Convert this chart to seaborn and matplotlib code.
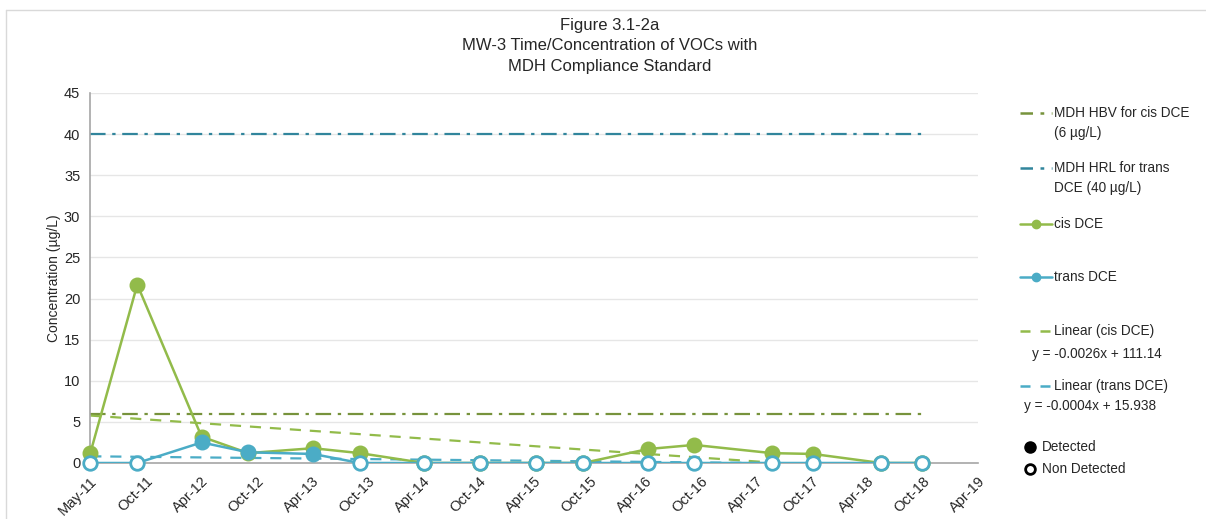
import numpy as np
import pandas as pd
import matplotlib
matplotlib.use("Agg")
import matplotlib.pyplot as plt
import matplotlib.dates as mdates
from matplotlib.lines import Line2D
import seaborn as sns

# ---- data ----
sample_dates = ["2011-05-02", "2011-10-03", "2012-05-01", "2012-10-01", "2013-05-01",
                "2013-10-02", "2014-04-30", "2014-11-01", "2015-05-02", "2015-10-04",
                "2016-05-04", "2016-10-02", "2017-06-14", "2017-10-27", "2018-06-07",
                "2018-10-19"]
cis_dce = [1.2, 21.7, 3.2, 1.2, 1.8, 1.2, 0, 0, 0, 0, 1.7, 2.2, 1.2, 1.1, 0, 0]
cis_detected = [1, 1, 1, 1, 1, 1, 0, 0, 0, 0, 1, 1, 1, 1, 0, 0]
trans_dce = [0, 0, 2.5, 1.3, 1.1, 0, 0, 0, 0, 0, 0, 0, 0, 0, 0, 0]
trans_detected = [0, 0, 1, 1, 1, 0, 0, 0, 0, 0, 0, 0, 0, 0, 0, 0]
hbv_cis = 6
hrl_trans = 40
tick_labels = ["May-11", "Oct-11", "Apr-12", "Oct-12", "Apr-13", "Oct-13", "Apr-14",
               "Oct-14", "Apr-15", "Oct-15", "Apr-16", "Oct-16", "Apr-17", "Oct-17",
               "Apr-18", "Oct-18", "Apr-19"]
y_ticks = [0, 5, 10, 15, 20, 25, 30, 35, 40, 45]

GREEN = "#92BB4A"
BLUE = "#4BACC6"
DKGREEN = "#77933C"
DKBLUE = "#31859C"
TXT = "#262626"

sns.set_theme(style="white")
plt.rcParams["font.family"] = ["Liberation Sans", "DejaVu Sans"]

dates = pd.to_datetime(sample_dates)
xnum = mdates.date2num(dates)
df = pd.DataFrame({"x": xnum, "cis": cis_dce, "cis_det": cis_detected,
                   "trans": trans_dce, "trans_det": trans_detected})

fig = plt.figure(figsize=(12.06, 5.19), dpi=100)
ax = fig.add_axes([90 / 1206, 1 - 463 / 519, (978 - 90) / 1206, (463 - 93) / 519])

# axis range: start at first tick, 182-day major units
x0 = mdates.date2num(pd.Timestamp("2011-05-01"))
tick_pos = [x0 + 182 * i for i in range(len(tick_labels))]
ax.set_xlim(tick_pos[0], tick_pos[-1])
ax.set_ylim(0, 45)

# gridlines
ax.set_yticks(y_ticks)
ax.yaxis.grid(True, color="#E6E6E6", lw=1)
ax.set_axisbelow(True)

# compliance lines
ax.plot([xnum[0], xnum[-1]], [hrl_trans, hrl_trans], color=DKBLUE, lw=1.6,
        dashes=(7, 3, 1.5, 3), zorder=2)
ax.plot([xnum[0], xnum[-1]], [hbv_cis, hbv_cis], color=DKGREEN, lw=1.6,
        dashes=(7, 3, 1.5, 3), zorder=2)

# trend lines
sns.regplot(data=df, x="x", y="cis", scatter=False, ci=None, ax=ax, truncate=True,
            line_kws=dict(color=GREEN, lw=1.6, dashes=(5, 4), zorder=2))
sns.regplot(data=df, x="x", y="trans", scatter=False, ci=None, ax=ax, truncate=True,
            line_kws=dict(color=BLUE, lw=1.6, dashes=(5, 4), zorder=2))

# series lines
sns.lineplot(data=df, x="x", y="cis", ax=ax, color=GREEN, lw=1.8, zorder=3)
sns.lineplot(data=df, x="x", y="trans", ax=ax, color=BLUE, lw=1.8, zorder=4)

# markers
det_c = df[df.cis_det == 1]
nd_c = df[df.cis_det == 0]
det_t = df[df.trans_det == 1]
nd_t = df[df.trans_det == 0]
ax.scatter(det_c.x, det_c.cis, s=110, color=GREEN, zorder=5, clip_on=False)
ax.scatter(nd_c.x, nd_c.cis, s=95, facecolor="white", edgecolor=GREEN, lw=2, zorder=5, clip_on=False)
ax.scatter(det_t.x, det_t.trans, s=110, color=BLUE, zorder=6, clip_on=False)
ax.scatter(nd_t.x, nd_t.trans, s=95, facecolor="white", edgecolor=BLUE, lw=2, zorder=6, clip_on=False)

# axes styling
ax.set_xticks(tick_pos)
ax.set_xticklabels(tick_labels, rotation=45, ha="right", rotation_mode="anchor",
                   fontsize=10.5, color=TXT)
ax.set_yticklabels([str(v) for v in y_ticks], fontsize=10.5, color=TXT)
ax.tick_params(axis="x", direction="inout", length=8, width=1, color="#A6A6A6", pad=4)
ax.tick_params(axis="y", direction="out", length=5, width=1, color="#A6A6A6", pad=2)
ax.set_xlabel("")
ax.set_ylabel("Concentration (µg/L)", fontsize=10, color=TXT, labelpad=2)
for s in ["top", "right"]:
    ax.spines[s].set_visible(False)
for s in ["left", "bottom"]:
    ax.spines[s].set_color("#A6A6A6")
    ax.spines[s].set_linewidth(1.2)

# title
fig.text(610 / 1206, 1 - 46 / 519,
         "Figure 3.1-2a\nMW-3 Time/Concentration of VOCs with\nMDH Compliance Standard",
         ha="center", va="center", fontsize=12, color=TXT, linespacing=1.42)

# legend (drawn manually)
W, H = 1206, 519
def fx(px):
    return px / W
def fy(py):
    return 1 - py / H

def leg_line(y, color, dashes=None, marker=False):
    kw = dict(transform=fig.transFigure, color=color, lw=1.8)
    ln = Line2D([fx(1020), fx(1052)], [fy(y), fy(y)], **kw)
    if dashes:
        ln.set_dashes(dashes)
    fig.add_artist(ln)
    if marker:
        fig.add_artist(Line2D([fx(1036)], [fy(y)], transform=fig.transFigure,
                              marker="o", ms=6, color=color, lw=0))

def leg_text(x, y, s):
    fig.text(fx(x), fy(y), s, ha="left", va="center", fontsize=9.8, color=TXT,
             linespacing=1.5)

leg_line(113, DKGREEN, dashes=(5, 3, 1.5, 3))
leg_text(1054, 123, "MDH HBV for cis DCE\n(6 µg/L)")
leg_line(168, DKBLUE, dashes=(5, 3, 1.5, 3))
leg_text(1054, 178, "MDH HRL for trans\nDCE (40 µg/L)")
leg_line(224, GREEN, marker=True)
leg_text(1054, 224, "cis DCE")
leg_line(277, BLUE, marker=True)
leg_text(1054, 277, "trans DCE")
leg_line(331, GREEN, dashes=(4, 4))
leg_text(1054, 331, "Linear (cis DCE)")
leg_text(1032, 354, "y = -0.0026x + 111.14")
leg_line(386, BLUE, dashes=(4, 4))
leg_text(1054, 386, "Linear (trans DCE)")
leg_text(1024, 406, "y = -0.0004x + 15.938")
fig.add_artist(Line2D([fx(1030)], [fy(447)], transform=fig.transFigure, marker="o",
                      ms=8, color="black", lw=0))
leg_text(1042, 447, "Detected")
fig.add_artist(Line2D([fx(1030)], [fy(469)], transform=fig.transFigure, marker="o",
                      ms=7, markerfacecolor="white", markeredgecolor="black",
                      markeredgewidth=2, lw=0))
leg_text(1042, 469, "Non Detected")

# outer border (top and left)
fig.add_artist(Line2D([fx(6), 1], [fy(10), fy(10)], transform=fig.transFigure,
                      color="#D9D9D9", lw=1))
fig.add_artist(Line2D([fx(6), fx(6)], [fy(10), 0], transform=fig.transFigure,
                      color="#D9D9D9", lw=1))

fig.savefig("out.png", dpi=100, facecolor="white")
